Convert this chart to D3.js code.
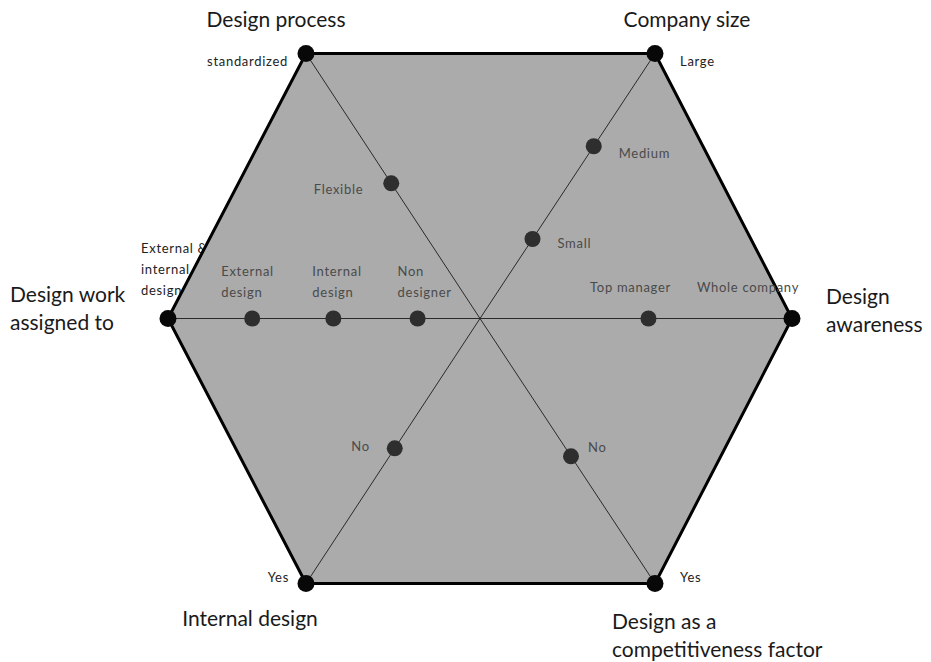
<!DOCTYPE html>
<html>
<head>
<meta charset="utf-8">
<script src="https://cdn.jsdelivr.net/npm/d3@7"></script>
<style>
	body { margin: 0; background: #fff; }
	text { font-family: Lato, "Open Sans", sans-serif; }
</style>
</head>
<body>
<svg id="chart" width="931" height="662"></svg>
<script>
// axes, counter-clockwise starting from the right
const axisNames = ["Design\nawareness", "Company size", "Design process",
	"Design work\nassigned to", "Internal design", "Design as a\ncompetitiveness factor"];
const levelLabels = [
	["Top manager", "Whole company"],
	["Small", "Medium", "Large"],
	["Flexible", "standardized"],
	["Non\ndesigner", "Internal\ndesign", "External\ndesign", "External &\ninternal\ndesign"],
	["No", "Yes"],
	["No", "Yes"]
];
const levelValues = [
	[0.54, 1],
	[0.30, 0.65, 1],
	[0.51, 1],
	[0.20, 0.47, 0.73, 1],
	[0.49, 1],
	[0.52, 1]
];

let svg = d3.select("#chart");
let cx = 480, cy = 318.5;

// direction of each axis end relative to the centre
let dirs = [[312, 0], [175, -265], [-174, -265], [-312, 0], [-174, 265], [175, 265]];

// one scale pair per axis, value 0 = centre, 1 = hexagon corner
let scales = dirs.map(function(d) {
	return {
		x: d3.scaleLinear().domain([0, 1]).range([cx, cx + d[0]]),
		y: d3.scaleLinear().domain([0, 1]).range([cy, cy + d[1]])
	};
});

// label placement relative to its point: [dx, dy, anchor]
let levelPos = [
	[[-18, -27, "middle"], [-44, -27, "middle"]],
	[[25, 9, "start"], [25, 12, "start"], [25, 12, "start"]],
	[[-28, 11, "end"], [-18, 12, "end"]],
	[[-20, -43, "start"], [-21, -43, "start"], [-31, -43, "start"], [-27, -66, "start"]],
	[[-25, 3, "end"], [-17, -2, "end"]],
	[[17, -4, "start"], [25, -2, "start"]]
];
let titlePos = [[34, -15, "start"], [32, -27, "middle"], [-30, -27, "middle"],
	[-158, -17, "start"], [-56, 42, "middle"], [-43, 45, "start"]];

function multiline(sel, str, lh) {
	str.split("\n").forEach(function(s, i) {
		sel.append("tspan").attr("x", sel.attr("x")).attr("dy", i == 0 ? 0 : lh).text(s);
	});
}

function addLabel(g, a, i, pos, size, color) {
	let v = levelValues[a][i];
	let t = g.append("text")
		.attr("x", scales[a].x(v) + pos[0])
		.attr("y", scales[a].y(v) + pos[1])
		.attr("text-anchor", pos[2])
		.attr("font-size", size)
		.attr("letter-spacing", 0.7)
		.attr("fill", color);
	multiline(t, levelLabels[a][i], 21);
}

// the outer label on the left sits under the hexagon edge
let under = svg.append("g");
addLabel(under, 3, 3, levelPos[3][3], 13, "#222");

let corners = dirs.map(function(d, a) { return [scales[a].x(1), scales[a].y(1)]; });
svg.append("path")
	.attr("d", d3.line()(corners) + "Z")
	.attr("fill", "#ababab")
	.attr("stroke", "#000")
	.attr("stroke-width", 3)
	.attr("stroke-linejoin", "miter");

// axis lines through the centre
svg.append("g").selectAll("line")
	.data(dirs)
	.enter().append("line")
	.attr("x1", cx).attr("y1", cy)
	.attr("x2", function(d, a) { return scales[a].x(1); })
	.attr("y2", function(d, a) { return scales[a].y(1); })
	.attr("stroke", "#2a2a2a")
	.attr("stroke-width", 1);

// level labels
let lg = svg.append("g");
levelLabels.forEach(function(labels, a) {
	labels.forEach(function(l, i) {
		if (a == 3 && i == 3) return;
		let inner = levelValues[a][i] < 1 || a == 0;
		addLabel(lg, a, i, levelPos[a][i], 13, inner ? "#4a4a4a" : "#222");
	});
});

// points
let pg = svg.append("g");
levelValues.forEach(function(vals, a) {
	pg.selectAll(null)
		.data(vals)
		.enter().append("circle")
		.attr("cx", function(v) { return scales[a].x(v); })
		.attr("cy", function(v) { return scales[a].y(v); })
		.attr("r", function(v) { return v == 1 ? 8.5 : 8; })
		.attr("fill", function(v) { return v == 1 ? "#080808" : "#2e2e2e"; });
});

// axis titles
let tg = svg.append("g");
axisNames.forEach(function(name, a) {
	let p = titlePos[a];
	let t = tg.append("text")
		.attr("x", scales[a].x(1) + p[0])
		.attr("y", scales[a].y(1) + p[1])
		.attr("text-anchor", p[2])
		.attr("font-size", 21)
		.attr("fill", "#1a1a1a");
	multiline(t, name, 28);
});
</script>
</body>
</html>
